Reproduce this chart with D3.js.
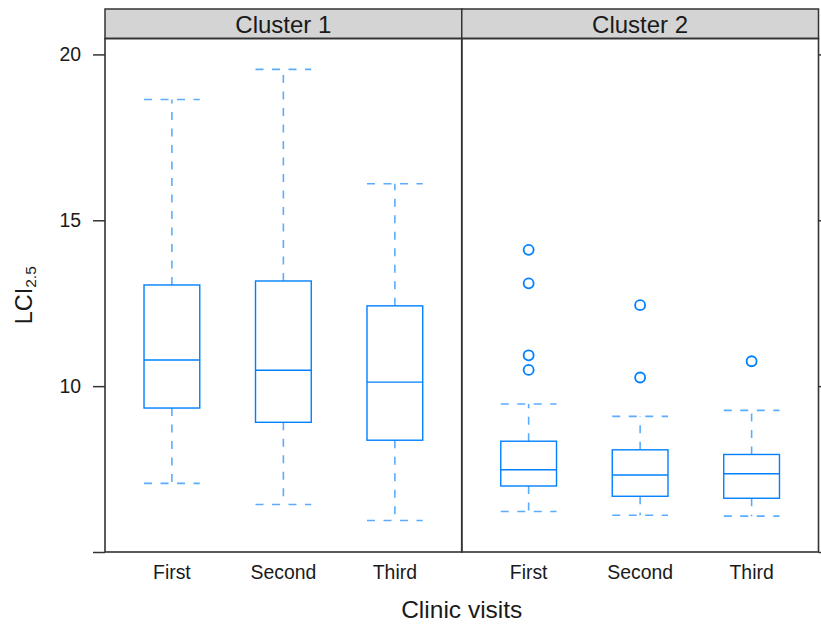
<!DOCTYPE html>
<html>
<head>
<meta charset="utf-8">
<script src="https://cdn.jsdelivr.net/npm/d3@7/dist/d3.min.js"></script>
<style>
  html, body { margin: 0; padding: 0; background: #ffffff; }
  svg { display: block; font-family: "Liberation Sans", Arial, Helvetica, sans-serif; }
</style>
</head>
<body>
<svg id="chart" width="821" height="628"></svg>
<script>
// ---- data ----
const categories = ["First", "Second", "Third"];
const clusters = ["Cluster 1", "Cluster 2"];
const yTicks = [5, 10, 15, 20];
const yTickLabels = ["", "10", "15", "20"];

const cluster1Low    = [7.07, 6.43, 5.95];
const cluster1Q1     = [9.34, 8.91, 8.37];
const cluster1Median = [10.79, 10.48, 10.12];
const cluster1Q3     = [13.05, 13.17, 12.42];
const cluster1High   = [18.64, 19.55, 16.10];
const cluster1Outliers = [[], [], []];

const cluster2Low    = [6.22, 6.11, 6.08];
const cluster2Q1     = [6.99, 6.68, 6.62];
const cluster2Median = [7.48, 7.32, 7.36];
const cluster2Q3     = [8.34, 8.08, 7.94];
const cluster2High   = [9.46, 9.09, 9.27];
const cluster2Outliers = [[14.11, 13.10, 10.93, 10.49], [12.44, 10.26], [10.75]];

const xLabel = "Clinic visits";
const yLabelMain = "LCI";
const yLabelSub = "2.5";

// ---- build panel tables ----
function buildStats(low, q1, med, q3, high, outs) {
  return categories.map((c, i) => ({ cat: c, low: low[i], q1: q1[i], med: med[i], q3: q3[i], high: high[i], outliers: outs[i] }));
}
const panels = [
  { name: clusters[0], stats: buildStats(cluster1Low, cluster1Q1, cluster1Median, cluster1Q3, cluster1High, cluster1Outliers) },
  { name: clusters[1], stats: buildStats(cluster2Low, cluster2Q1, cluster2Median, cluster2Q3, cluster2High, cluster2Outliers) }
];

// ---- layout ----
const plotLeft = 105, plotRight = 818.5;
const stripTop = 9, stripBottom = 38.5, plotBottom = 552;
const panelW = (plotRight - plotLeft) / panels.length;
const boxColor = "#0080ff";
const frameColor = "#333333";
const dash = "8,8.5";

const svg = d3.select("#chart");
const y = d3.scaleLinear().domain([5, 20.48]).range([plotBottom, stripBottom]);

panels.forEach((p, pi) => {
  const x0 = plotLeft + pi * panelW, x1 = x0 + panelW;
  const x = d3.scalePoint().domain(categories).range([x0, x1]).padding(0.6);
  const bw = x.step() * 0.5;
  const g = svg.append("g");

  // strip
  g.append("rect").attr("x", x0).attr("y", stripTop).attr("width", panelW).attr("height", stripBottom - stripTop)
    .attr("fill", "#d4d4d4").attr("stroke", frameColor).attr("stroke-width", 1.5);
  g.append("text").attr("x", (x0 + x1) / 2).attr("y", 33).attr("text-anchor", "middle")
    .attr("font-size", 24).attr("fill", "#1a1a1a").text(p.name);

  const boxes = g.selectAll("g.box").data(p.stats).join("g").attr("class", "box");
  // whiskers (dashed)
  boxes.append("line").attr("x1", d => x(d.cat)).attr("x2", d => x(d.cat))
    .attr("y1", d => y(d.q3)).attr("y2", d => y(d.high))
    .attr("stroke", boxColor).attr("stroke-width", 1.6).attr("stroke-dasharray", dash).attr("stroke-opacity", 0.65);
  boxes.append("line").attr("x1", d => x(d.cat)).attr("x2", d => x(d.cat))
    .attr("y1", d => y(d.q1)).attr("y2", d => y(d.low))
    .attr("stroke", boxColor).attr("stroke-width", 1.6).attr("stroke-dasharray", dash).attr("stroke-opacity", 0.65);
  // staples (dashed)
  ["high", "low"].forEach(k => {
    boxes.append("line").attr("x1", d => x(d.cat) - bw / 2).attr("x2", d => x(d.cat) + bw / 2)
      .attr("y1", d => y(d[k])).attr("y2", d => y(d[k]))
      .attr("stroke", boxColor).attr("stroke-width", 1.6).attr("stroke-dasharray", dash).attr("stroke-opacity", 0.65);
  });
  // box
  boxes.append("rect").attr("x", d => x(d.cat) - bw / 2).attr("width", bw)
    .attr("y", d => y(d.q3)).attr("height", d => y(d.q1) - y(d.q3))
    .attr("fill", "none").attr("stroke", boxColor).attr("stroke-width", 1.4);
  // median
  boxes.append("line").attr("x1", d => x(d.cat) - bw / 2).attr("x2", d => x(d.cat) + bw / 2)
    .attr("y1", d => y(d.med)).attr("y2", d => y(d.med))
    .attr("stroke", boxColor).attr("stroke-width", 1.4);
  // outliers
  boxes.each(function (d) {
    d3.select(this).selectAll("circle").data(d.outliers).join("circle")
      .attr("cx", x(d.cat)).attr("cy", v => y(v)).attr("r", 5)
      .attr("fill", "none").attr("stroke", boxColor).attr("stroke-width", 1.8);
  });

  // panel frame
  g.append("rect").attr("x", x0).attr("y", stripBottom).attr("width", panelW).attr("height", plotBottom - stripBottom)
    .attr("fill", "none").attr("stroke", frameColor).attr("stroke-width", 1.6);

  // x tick labels
  g.selectAll("text.xt").data(categories).join("text").attr("class", "xt")
    .attr("x", c => x(c)).attr("y", 578.5).attr("text-anchor", "middle")
    .attr("font-size", 19.4).attr("fill", "#1a1a1a").text(c => c);
});

// left y axis
const yAxis = d3.axisLeft(y).tickValues(yTicks).tickSize(12).tickPadding(12)
  .tickFormat((d, i) => yTickLabels[i]);
const ya = svg.append("g").attr("transform", `translate(${plotLeft},0)`).call(yAxis);
ya.select(".domain").remove();
ya.selectAll("line").attr("stroke", frameColor).attr("stroke-width", 1.5);
ya.selectAll("text").attr("font-size", 19.4).attr("fill", "#1a1a1a").attr("font-family", "Liberation Sans, Arial, sans-serif");

// right y axis ticks (no labels)
const yAxisR = d3.axisRight(y).tickValues(yTicks).tickSize(12).tickFormat("");
const yr = svg.append("g").attr("transform", `translate(${plotRight},0)`).call(yAxisR);
yr.select(".domain").remove();
yr.selectAll("line").attr("stroke", frameColor).attr("stroke-width", 1.5);

// x label
svg.append("text").attr("x", (plotLeft + plotRight) / 2).attr("y", 617.5).attr("text-anchor", "middle")
  .attr("font-size", 24.5).attr("fill", "#1a1a1a").text(xLabel);

// y label
const yl = svg.append("text").attr("transform", `translate(31.5,${(stripBottom + plotBottom) / 2}) rotate(-90)`)
  .attr("text-anchor", "middle").attr("font-size", 23.5).attr("fill", "#1a1a1a");
yl.append("tspan").text(yLabelMain);
yl.append("tspan").attr("font-size", 15.5).attr("dy", 4).text(yLabelSub);
</script>
</body>
</html>
